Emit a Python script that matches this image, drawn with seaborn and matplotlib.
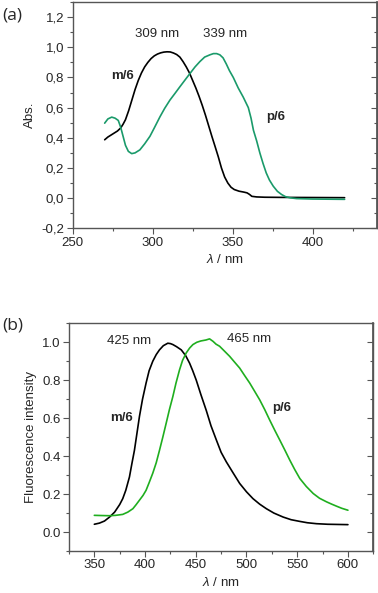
import numpy as np
import pandas as pd
import matplotlib
matplotlib.use("Agg")
import matplotlib.pyplot as plt
from matplotlib.ticker import MultipleLocator, FuncFormatter
import seaborn as sns

# (a) absorption spectra
abs_m_nm = [270, 272, 275, 278, 280, 281.5, 283, 285, 287, 289, 291, 293, 295, 297, 299, 301, 303,
            305, 307, 309, 311, 313, 315, 317, 319, 321, 323, 325, 327, 329, 331, 333, 335, 337,
            339, 341, 343, 345, 347, 349, 351, 354, 357, 359, 360.5, 362, 365, 370, 380, 400, 420]
abs_m_val = [0.387, 0.405, 0.425, 0.445, 0.465, 0.49, 0.52, 0.58, 0.65, 0.72, 0.78, 0.83, 0.87,
             0.90, 0.925, 0.943, 0.955, 0.963, 0.968, 0.970, 0.969, 0.962, 0.952, 0.935, 0.905,
             0.87, 0.83, 0.78, 0.73, 0.675, 0.615, 0.55, 0.48, 0.41, 0.343, 0.275, 0.20, 0.14,
             0.10, 0.072, 0.057, 0.046, 0.040, 0.035, 0.025, 0.012, 0.008, 0.006, 0.005, 0.004, 0.003]
abs_p_nm = [270, 272, 274.4, 276.5, 278.5, 280, 281.5, 283, 284.8, 286.9, 289, 292, 295, 298.3,
            301, 304.6, 307.5, 310.8, 314, 317, 320, 323.3, 326.5, 329.5, 332.5, 335.8, 338, 340,
            342, 344, 346, 348, 350.4, 353.5, 356.6, 359.8, 361.5, 363, 365, 367, 369, 371, 373,
            375.4, 378, 380.6, 383, 386, 390, 400, 420]
abs_p_val = [0.497, 0.525, 0.537, 0.530, 0.515, 0.47, 0.41, 0.35, 0.31, 0.295, 0.30, 0.32, 0.36,
             0.41, 0.465, 0.54, 0.595, 0.65, 0.695, 0.738, 0.78, 0.826, 0.87, 0.905, 0.935, 0.95,
             0.958, 0.958, 0.950, 0.93, 0.89, 0.845, 0.80, 0.73, 0.67, 0.60, 0.53, 0.45, 0.38,
             0.30, 0.23, 0.167, 0.12, 0.079, 0.045, 0.024, 0.01, 0.002, -0.003, -0.006, -0.008]

# (b) fluorescence spectra
fl_m_nm = [350, 355, 360, 365, 370, 375, 378, 381, 384.6, 387, 389.5, 392, 394.5, 397.5, 401, 404,
           407.6, 411, 414.2, 418, 422.4, 425, 427.4, 431, 435.7, 440, 443.9, 447, 450.5, 455,
           460.4, 465, 470.3, 475, 480.1, 487, 493.3, 500, 506.4, 513, 519.6, 527, 536.1, 544,
           552.6, 560, 569, 580, 590, 600]
fl_m_val = [0.041, 0.047, 0.058, 0.079, 0.105, 0.145, 0.176, 0.22, 0.29, 0.36, 0.43, 0.52, 0.61,
            0.70, 0.785, 0.85, 0.90, 0.935, 0.96, 0.982, 0.995, 0.993, 0.988, 0.977, 0.96, 0.93,
            0.89, 0.85, 0.80, 0.725, 0.64, 0.56, 0.485, 0.42, 0.37, 0.31, 0.256, 0.212, 0.176,
            0.147, 0.123, 0.10, 0.079, 0.065, 0.056, 0.049, 0.044, 0.041, 0.040, 0.039]
fl_p_nm = [350, 357, 364.8, 371, 378, 383, 388, 391, 394.5, 398, 401, 404, 407.6, 411, 414.2,
           417.5, 420.8, 424, 427.4, 430.5, 434, 437, 440.6, 444, 447.2, 451, 455, 460, 463.6,
           467, 470, 473.5, 478, 483.4, 488, 493.3, 498, 503.2, 508, 513, 518, 522.9, 528, 532.8,
           538, 542.7, 547.5, 552.6, 559, 565.8, 572, 579, 584, 588.9, 594, 600]
fl_p_val = [0.088, 0.087, 0.086, 0.088, 0.093, 0.105, 0.123, 0.143, 0.168, 0.193, 0.22, 0.26, 0.31,
            0.365, 0.43, 0.50, 0.573, 0.645, 0.714, 0.785, 0.855, 0.905, 0.944, 0.97, 0.988, 1.0,
            1.007, 1.012, 1.018, 1.005, 0.99, 0.979, 0.955, 0.926, 0.897, 0.864, 0.826, 0.785,
            0.742, 0.697, 0.645, 0.59, 0.535, 0.485, 0.43, 0.379, 0.33, 0.282, 0.24, 0.203, 0.178,
            0.159, 0.147, 0.136, 0.125, 0.115]

sns.set_theme(style="ticks")
plt.rcParams['font.family'] = ['Liberation Sans', 'DejaVu Sans']
plt.rcParams['mathtext.fontset'] = 'custom'
plt.rcParams['mathtext.it'] = 'Liberation Sans:italic'

FS = 9.5
FRAME = "#555555"

fig = plt.figure(figsize=(3.78, 5.93), dpi=100)
ax_a = fig.add_axes([0.1923, 0.615, 0.804, 0.3816])
ax_b = fig.add_axes([0.1825, 0.0708, 0.805, 0.384])


def make_df(nm, val, name):
    return pd.DataFrame({"nm": np.array(nm, dtype=float), "val": np.array(val, dtype=float), "s": name})


df_a = pd.concat([make_df(abs_m_nm, abs_m_val, "m/6"), make_df(abs_p_nm, abs_p_val, "p/6")])
df_b = pd.concat([make_df(fl_m_nm, fl_m_val, "m/6"), make_df(fl_p_nm, fl_p_val, "p/6")])

sns.lineplot(data=df_a, x="nm", y="val", hue="s", palette={"m/6": "black", "p/6": "#1a9a6a"},
             sort=False, estimator=None, linewidth=1.2, legend=False, ax=ax_a,
             solid_joinstyle="round")
sns.lineplot(data=df_b, x="nm", y="val", hue="s", palette={"m/6": "black", "p/6": "#1fae1f"},
             sort=False, estimator=None, linewidth=1.2, legend=False, ax=ax_b,
             solid_joinstyle="round")


def style_axis(ax, xlim, ylim, xmaj, ymaj, comma):
    ax.set_xlim(*xlim)
    ax.set_ylim(*ylim)
    ax.xaxis.set_major_locator(MultipleLocator(xmaj))
    ax.xaxis.set_minor_locator(MultipleLocator(xmaj / 2))
    ax.yaxis.set_major_locator(MultipleLocator(ymaj))
    ax.yaxis.set_minor_locator(MultipleLocator(ymaj / 2))
    if comma:
        ax.yaxis.set_major_formatter(FuncFormatter(lambda v, p: f"{v:.1f}".replace(".", ",").replace("-0,0", "0,0")))
    else:
        ax.yaxis.set_major_formatter(FuncFormatter(lambda v, p: f"{v:.1f}".replace("-0.0", "0.0")))
    for sp in ax.spines.values():
        sp.set_color(FRAME)
        sp.set_linewidth(1.0)
    ax.tick_params(which="major", direction="out", length=4, width=0.8, color=FRAME,
                   labelsize=FS, pad=2)
    ax.tick_params(which="minor", direction="out", length=2, width=0.8, color=FRAME)
    sec = ax.secondary_yaxis("right")
    sec.yaxis.set_major_locator(MultipleLocator(ymaj))
    sec.yaxis.set_minor_locator(MultipleLocator(ymaj / 2))
    sec.tick_params(which="major", direction="in", length=4, width=0.8, color=FRAME, labelright=False)
    sec.tick_params(which="minor", direction="in", length=2, width=0.8, color=FRAME)
    sec.spines["right"].set_color(FRAME)
    ax.set_xlabel(r"$\mathit{\lambda}$ / nm", fontsize=FS, labelpad=3)


style_axis(ax_a, (250, 440), (-0.2, 1.3), 50, 0.2, True)
style_axis(ax_b, (325, 625), (-0.1, 1.1), 50, 0.2, False)
ax_a.set_ylabel("Abs.", fontsize=FS, labelpad=4)
ax_b.set_ylabel("Fluorescence intensity", fontsize=FS, labelpad=4)

# annotations
ax_a.text(303, 1.09, "309 nm", fontsize=FS, ha="center", va="center")
ax_a.text(345.5, 1.09, "339 nm", fontsize=FS, ha="center", va="center")
ax_a.text(281, 0.81, "m/6", fontsize=FS, fontweight="bold", ha="center", va="center")
ax_a.text(377, 0.537, "p/6", fontsize=FS, fontweight="bold", ha="center", va="center")

ax_b.text(384.6, 1.005, "425 nm", fontsize=FS, ha="center", va="center")
ax_b.text(503, 1.018, "465 nm", fontsize=FS, ha="center", va="center")
ax_b.text(376.4, 0.60, "m/6", fontsize=FS, fontweight="bold", ha="center", va="center")
ax_b.text(534.5, 0.653, "p/6", fontsize=FS, fontweight="bold", ha="center", va="center")

fig.text(12 / 378, 1 - 15 / 593, "(a)", fontsize=12.5, family=["Open Sans", "DejaVu Sans"],
         ha="center", va="center")
fig.text(13 / 378, 1 - 325 / 593, "(b)", fontsize=12.5, family=["Open Sans", "DejaVu Sans"],
         ha="center", va="center")

fig.savefig("out.png", dpi=100)
